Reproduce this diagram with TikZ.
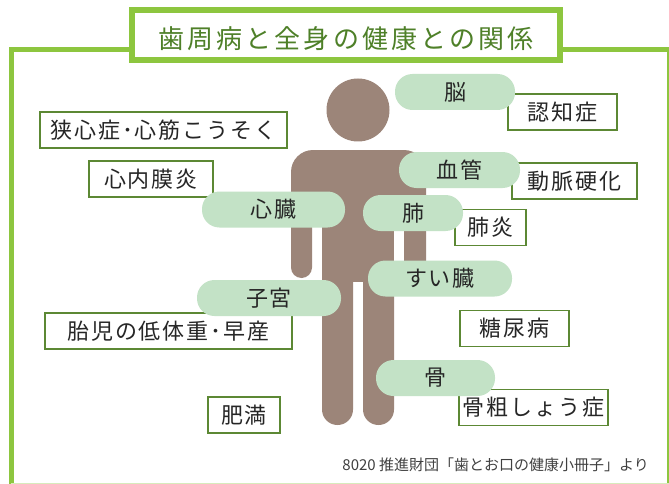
\documentclass[tikz,border=0pt]{standalone}
\usepackage{fontspec}
\setmainfont{Noto Sans CJK JP}
\newfontfamily\jp[LetterSpace=9]{Noto Sans CJK JP}
\newfontfamily\jptitle[LetterSpace=12]{Noto Sans CJK JP}

\definecolor{framegreen}{RGB}{141,198,63}
\definecolor{titlegreen}{RGB}{78,128,40}
\definecolor{boxgreen}{RGB}{92,136,52}
\definecolor{pillgreen}{RGB}{195,226,198}
\definecolor{bodybrown}{RGB}{156,133,121}

\begin{document}
\begin{tikzpicture}[x=1pt,y=-1pt,
  every node/.style={inner sep=0pt,text=black!85},
  organ/.style={fill=pillgreen,rounded corners=17.5pt,minimum height=36pt,font=\jp\fontsize{22}{22}\selectfont},
  illness/.style={draw=boxgreen,line width=1.6pt,fill=white,minimum height=36pt,font=\jp\fontsize{22}{22}\selectfont},
  body/.style={fill=bodybrown}]
\useasboundingbox[fill=white] (0,0) rectangle (669,484);
\draw[framegreen,line width=5pt] (669.5,486) -- (669.5,49.5) -- (11,49.5) -- (11,486);
\draw[framegreen!35,line width=2pt] (11,483.5) -- (669.5,483.5);
\node[draw=framegreen,line width=6pt,fill=white,minimum width=428pt,minimum height=50pt,
  text height=30pt,text depth=3pt,
  text=titlegreen,font=\jptitle\fontsize{26}{26}\selectfont] (title) at (346,35) {歯周病と全身の健康との関係};

% figure
\fill[body] (358,110) circle (31.5);
\fill[body,rounded corners=22pt] (291,210) -- (291,150) -- (426,150) -- (426,210) -- cycle;
\fill[body,rounded corners=10.5pt] (291,175) rectangle (312,278);
\fill[body,rounded corners=10.5pt] (404,175) rectangle (426,278);
\fill[body] (322,170) rectangle (394,282);
\fill[body,rounded corners=15.5pt] (322,262) rectangle (353,425);
\fill[body,rounded corners=15.5pt] (363,262) rectangle (394,425);

\node[illness,minimum width=109pt] (ninchi) at (562.5,112) {認知症};
\node[illness,minimum width=125pt] (doumyaku) at (574.5,181) {動脈硬化};
\node[illness,minimum width=71pt] (haien) at (490.5,227.5) {肺炎};
\node[illness,minimum width=247pt] (kyoshin) at (163.5,130) {狭心症･心筋こうそく};
\node[illness,minimum width=124pt] (naimaku) at (151,179) {心内膜炎};
\node[illness,minimum width=247pt] (taiji) at (168.5,331) {胎児の低体重･早産};
\node[illness,minimum width=109pt] (tounyou) at (514.5,328.5) {糖尿病};
\node[illness,minimum width=149pt] (kotsu) at (533.5,407.5) {骨粗しょう症};
\node[illness,minimum width=72pt] (himan) at (244,415) {肥満};

\node[organ,minimum width=120pt] (nou) at (455,92) {脳};
\node[organ,minimum width=121pt] (kekkan) at (459.5,170) {血管};
\node[organ,minimum width=100pt] (hai) at (413,213) {肺};
\node[organ,minimum width=143pt] (shinzou) at (273.5,209.5) {心臓};
\node[organ,minimum width=144pt] (suizou) at (440,278.5) {すい臓};
\node[organ,minimum width=144pt] (shikyu) at (269,298) {子宮};
\node[organ,minimum width=119pt] (hone) at (435.5,378) {骨};

\node[text=black!75,font=\fontsize{15}{15}\selectfont,anchor=east] (source) at (649,465) {8020 推進財団「歯とお口の健康小冊子」より};
\end{tikzpicture}
\end{document}
